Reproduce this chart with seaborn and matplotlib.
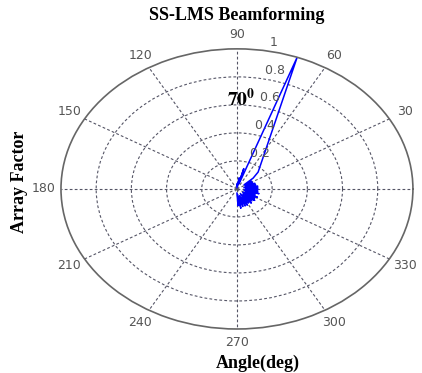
import numpy as np
import pandas as pd
import matplotlib
matplotlib.use('Agg')
import matplotlib.pyplot as plt
import seaborn as sns

# beam pattern (angle in degrees, normalised array factor)
angle_deg = [-90, -87, -84, -81, -78, -75, -72, -69, -66, -63, -60, -57, -54,
             -51, -48, -45, -42, -39, -36, -33, -30, -27, -24, -21, -18, -15,
             -12, -9, -6, -3, 0, 3, 6, 9, 12, 15, 18, 21, 24, 27, 30, 33, 36,
             40, 45, 70, 72, 75, 78, 81, 84, 87, 90]
array_factor = [0.03, 0.12, 0.04, 0.14, 0.06, 0.13, 0.05, 0.13, 0.07, 0.13,
                0.04, 0.12, 0.06, 0.13, 0.05, 0.12, 0.07, 0.13, 0.04, 0.12,
                0.06, 0.13, 0.05, 0.11, 0.07, 0.13, 0.04, 0.12, 0.06, 0.12,
                0.05, 0.12, 0.07, 0.12, 0.04, 0.11, 0.06, 0.11, 0.05, 0.10,
                0.07, 0.10, 0.05, 0.12, 0.17, 1.00, 0.04, 0.15, 0.03, 0.08,
                0.02, 0.04, 0.01]

theta_ticks = list(range(30, 360, 30))
r_ticks = [0.2, 0.4, 0.6, 0.8]
r_labels = ['0.2', '0.4', '0.6', '0.8', '1']

df = pd.DataFrame({'theta': np.deg2rad(angle_deg), 'af': array_factor})

grid_col = '#555566'
label_col = '#555555'
serif = ['Liberation Serif', 'DejaVu Serif']

fig = plt.figure(figsize=(4.22, 3.73), dpi=100, facecolor='white')
ax = fig.add_axes([0.1445, 0.118, 0.834, 0.751], projection='polar')
ax.set_aspect('auto')

sns.lineplot(data=df, x='theta', y='af', sort=False, estimator=None,
             color='#0000ff', linewidth=1.1, ax=ax)

ax.set_ylim(0, 1)
ax.set_xticks(np.deg2rad([0] + theta_ticks))
ax.set_xticklabels([])
ax.set_yticks(r_ticks)
ax.set_yticklabels([])
ax.tick_params(length=0)
ax.grid(True, linestyle=(0, (2.5, 2)), color=grid_col, linewidth=0.8)
ax.spines['polar'].set_color('#666666')
ax.spines['polar'].set_linewidth(1.2)
ax.set_xlabel('')
ax.set_ylabel('')

# angle labels at 1.1 * rmax like matlab polar (0 falls outside the frame)
for t in theta_ticks:
    ax.text(np.deg2rad(t), 1.1, str(t), ha='center', va='center',
            fontsize=9, color=label_col)

# radial labels at 82 degrees
for r, lab in zip(r_ticks + [1.0], r_labels):
    ax.text(np.deg2rad(82), r + 0.01, '  ' + lab, ha='left', va='bottom',
            fontsize=9, color=label_col)

ax.text(np.deg2rad(88), 0.645, r'$\mathbf{70^0}$', fontsize=14,
        ha='center', va='center', math_fontfamily='stix')

fig.text(237 / 422, 1 - 16 / 373, 'SS-LMS Beamforming', ha='center', va='center',
         fontsize=13, fontweight='bold', family=serif)
fig.text(258 / 422, 1 - 363 / 373, 'Angle(deg)', ha='center', va='center',
         fontsize=13, fontweight='bold', family=serif)
fig.text(20 / 422, 1 - 182 / 373, 'Array Factor', ha='center', va='center',
         rotation=90, fontsize=13, fontweight='bold', family=serif)

fig.savefig('out.png', dpi=100, facecolor='white')
